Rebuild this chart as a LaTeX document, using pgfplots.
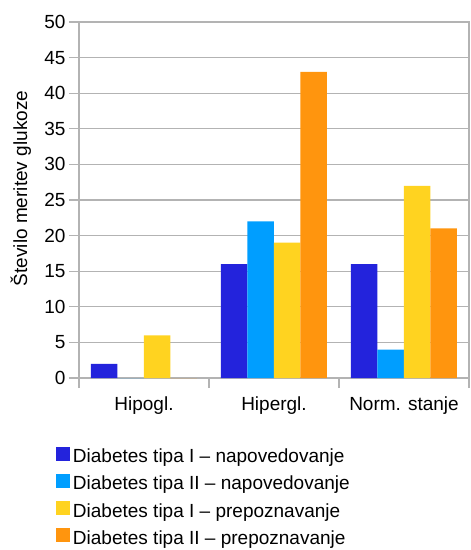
\documentclass[border=0pt]{standalone}
\usepackage{fontspec}
\setmainfont{Liberation Sans}
\usepackage{pgfplots}
\pgfplotsset{compat=1.18}
\definecolor{c1}{HTML}{2323DC}
\definecolor{c2}{HTML}{009EFF}
\definecolor{c3}{HTML}{FFD320}
\definecolor{c4}{HTML}{FF950E}
\definecolor{gridc}{HTML}{B3B3B3}
\begin{document}
\begin{tikzpicture}[font=\fontsize{19}{22}\selectfont]
\useasboundingbox (0,0) rectangle (471pt,550pt);
\begin{axis}[
  at={(79pt,172pt)}, anchor=south west,
  scale only axis, width=390pt, height=356pt,
  ybar=0pt, bar width=26.5pt,
  xmin=-0.5, xmax=2.5, ymin=0, ymax=50,
  xtick={0,1,2}, xticklabels={Hipogl.,Hipergl.,Norm. stanje},
  minor xtick={-0.5,0.5,1.5,2.5},
  ytick={0,5,...,50},
  tick pos=left,
  tick align=outside,
  major tick length=10pt, minor tick length=10pt,
  major x tick style={draw=none},
  xticklabel style={yshift=-5pt},
  ymajorgrids,
  grid style={gridc, line width=1.2pt},
  axis line style={gridc, line width=1.2pt},
  tick style={gridc, line width=1.2pt},
  /pgf/number format/assume math mode=true,
  ylabel={Število meritev glukoze},
  ylabel style={at={(axis description cs:-0.1333,0.5323)}, anchor=base},
  legend cell align=left,
  legend style={draw=none, fill=none, at={(0,0)}, anchor=north west,
    xshift=-23pt, yshift=-68.5pt, inner sep=0pt, outer sep=0pt, row sep=7.3pt,
    nodes={inner sep=0pt, text height=14pt, text depth=4pt},
    /tikz/every odd column/.append style={column sep=3pt}},
  legend image code/.code={\fill[#1] (0pt,-3pt) rectangle (14pt,11pt);},
]
\addplot[fill=c1, draw=none] coordinates {(0,2) (1,16) (2,16)};
\addplot[fill=c2, draw=none] coordinates {(0,0) (1,22) (2,4)};
\addplot[fill=c3, draw=none] coordinates {(0,6) (1,19) (2,27)};
\addplot[fill=c4, draw=none] coordinates {(0,0) (1,43) (2,21)};
\legend{Diabetes tipa I – napovedovanje, Diabetes tipa II – napovedovanje, Diabetes tipa I – prepoznavanje, Diabetes tipa II – prepoznavanje}
\end{axis}
\end{tikzpicture}
\end{document}
